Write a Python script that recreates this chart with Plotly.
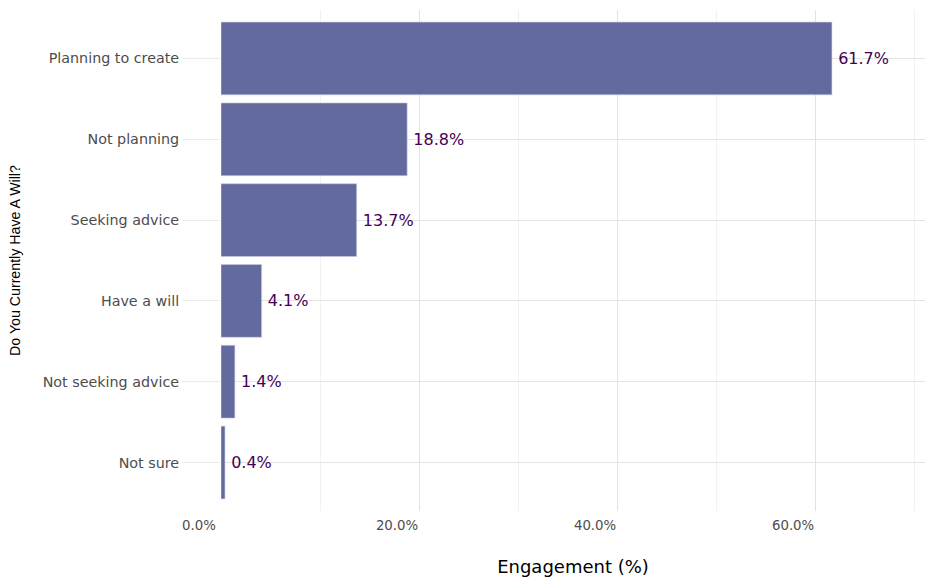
import plotly.graph_objects as go

categories = ["Planning to create", "Not planning", "Seeking advice", "Have a will", "Not seeking advice", "Not sure"]
values = [61.7, 18.8, 13.7, 4.1, 1.4, 0.4]
label_texts = ["61.7%", "18.8%", "13.7%", "4.1%", "1.4%", "0.4%"]
tick_vals = [0, 20, 40, 60]
tick_text = ["0.0%", "20.0%", "40.0%", "60.0%"]

cats_rev = categories[::-1]
vals_rev = values[::-1]
labels_rev = ["\u2009" + t for t in label_texts[::-1]]

fig = go.Figure()
fig.add_trace(go.Bar(
    y=cats_rev, x=vals_rev, orientation="h",
    marker=dict(color="#636b9e", line=dict(color="#c9cbe0", width=0.6)),
    width=0.9,
    text=labels_rev, textposition="outside",
    textfont=dict(family="DejaVu Sans", size=16, color="#440154"),
    cliponaxis=False,
    hoverinfo="skip",
))

fig.update_layout(
    width=936, height=586,
    margin=dict(l=221, r=11, t=10, b=75),
    plot_bgcolor="white", paper_bgcolor="white",
    font=dict(family="DejaVu Sans", color="#4d4d4d", size=13),
    showlegend=False,
    bargap=0.1,
)
fig.update_xaxes(
    automargin=False,
    range=[0, 71.1],
    tickvals=tick_vals, ticktext=tick_text,
    showgrid=True, gridcolor="#e3e3e3", gridwidth=1.1,
    minor=dict(tickvals=[10, 30, 50, 70], showgrid=True, gridcolor="#f1f1f1", gridwidth=0.6),
    zeroline=False, showline=False,
    ticks="", ticklabelshift=-22, ticklabelstandoff=5,
    tickfont=dict(size=13.3, color="#4d4d4d"),
    title=dict(text="Engagement (%)", font=dict(size=18, color="black"), standoff=28),
)
fig.update_yaxes(
    automargin=False,
    categoryorder="array", categoryarray=cats_rev,
    range=[-0.6, 5.6],
    showgrid=True, gridcolor="#e3e3e3", gridwidth=1.1,
    zeroline=False, showline=False,
    ticks="outside", ticklen=38, tickcolor="#ebebeb", tickwidth=1.1,
    ticklabelstandoff=0,
    tickfont=dict(size=14.3, color="#4d4d4d"),
    title=dict(text="Do You Currently Have A Will?", font=dict(family="Liberation Sans", size=14.2, color="black"), standoff=18),
)

fig.write_html("out.html", config={"displayModeBar": False},
               post_script="document.body.style.margin='0';")
